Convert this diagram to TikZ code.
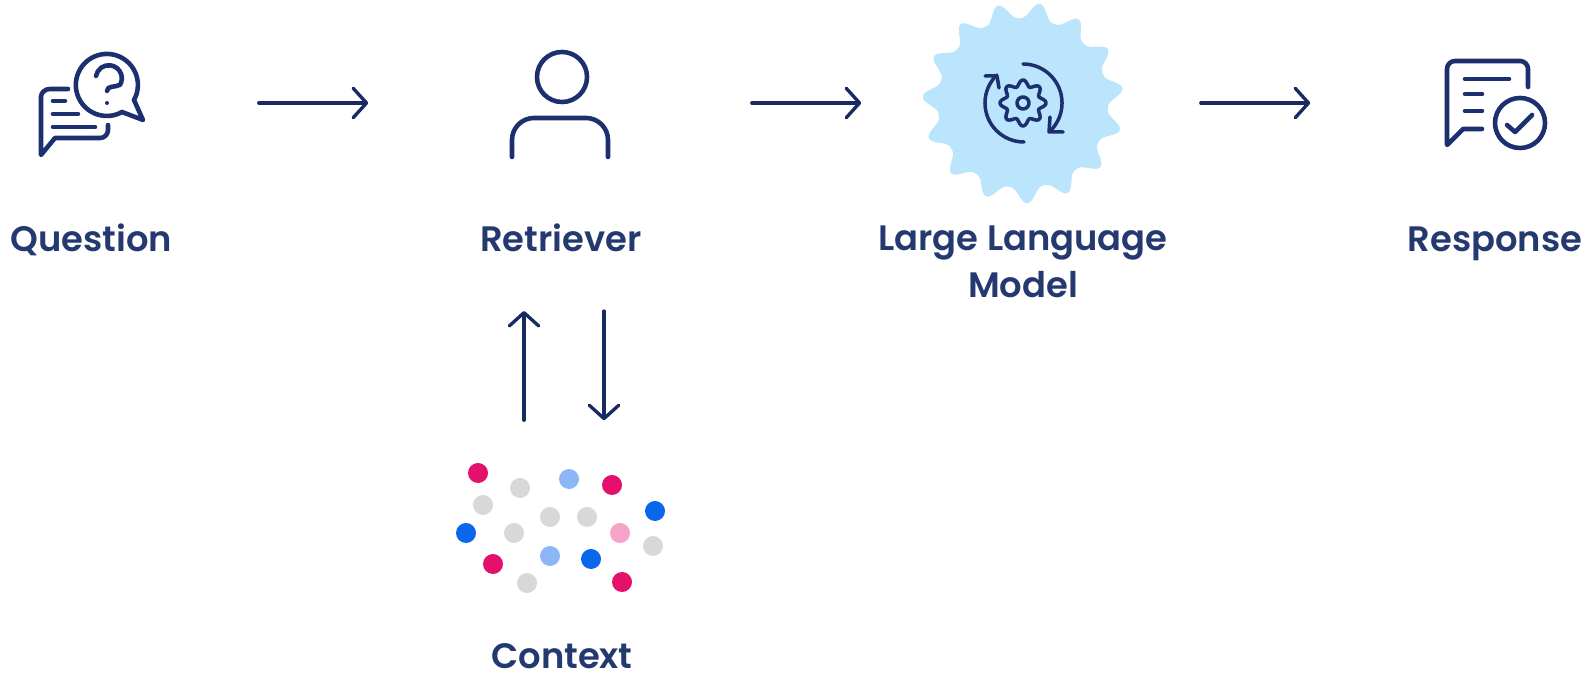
\documentclass[tikz,border=0pt]{standalone}
\usepackage{fontspec}
\setmainfont{Poppins}[BoldFont={Poppins SemiBold}]
\usetikzlibrary{arrows.meta}
\definecolor{navy}{HTML}{1C2F6E}
\definecolor{labelblue}{HTML}{24396F}
\definecolor{burst}{HTML}{BBE5FD}
\definecolor{dotpink}{HTML}{E3106C}
\definecolor{dotblue}{HTML}{0A66EA}
\definecolor{dotsky}{HTML}{8DB6F7}
\definecolor{dotgray}{HTML}{D8D8D8}
\definecolor{dotrose}{HTML}{F5A3C7}
\tikzset{
	flow/.style={draw=navy!90!black, line width=0.95pt, line cap=round, -{Straight Barb[length=3.8pt,width=8.4pt,line width=0.95pt,round]}},
	icon/.style={draw=navy, line width=1.3pt, line cap=round, line join=round},
	thin icon/.style={icon, line width=1pt},
	label/.style={text=labelblue, font=\fontsize{10.05}{13.4}\selectfont\bfseries, align=center, anchor=base, inner sep=0pt},
	slot/.style={minimum width=#1, minimum height=1.1cm, inner sep=0pt},
	dot/.style={circle, inner sep=0pt, minimum size=0.2cm}
}
\begin{document}
\begin{tikzpicture}[x=0.01cm, y=-0.01cm]
	\useasboundingbox (0,0) rectangle (1595,674);

	% light burst behind the LLM icon
	\fill[burst] plot[domain=0:360, samples=361, smooth]
		({1023+(85+15.5*(0.5+0.5*cos(15*\x-126))^1.5)*cos(\x)}, {103-(85+15.5*(0.5+0.5*cos(15*\x-126))^1.5)*sin(\x)}) -- cycle;

	\node[slot=3.36cm] (question)  at (90,103)   {};
	\node[slot=3.82cm] (retriever) at (560,103)  {};
	\node[slot=3.38cm] (llm)       at (1031,103) {};
	\node[slot=3.68cm] (response)  at (1495,103) {};

	\node[label] (questiontext)  at (91.5,252)  {Question};
	\node[label] (retrievertext) at (561,252)   {Retriever};
	\node[label] (llmtext)       at (1023,298)  {Large Language\\Model};
	\node[label] (responsetext)  at (1495,252)  {Response};
	\node[label] (contexttext)   at (562,669)   {Context};

	\node[minimum width=2.2cm, minimum height=1.64cm, inner sep=0pt] (context) at (564,503) {};
	\coordinate (uphead) at (524,311);
	\coordinate (downtail) at (604,311);

	% top row
	\def\list {question/retriever, retriever/llm, llm/response}  % list elements
	\foreach \u/\v in \list
	{	\draw[flow] (\u.east) -- (\v.west);
	}

	% to and from the context
	\draw[flow] (context.north -| uphead) -- (uphead);
	\draw[flow] (downtail) -- (context.north -| downtail);

	% question icon
	\draw[icon] (68,89) -- (50,89) to[out=180,in=90] (41,97) -- (41,155) -- (55,138) -- (100,138) to[out=0,in=-90] (108,130) -- (108,125);
	\draw[icon] (53,101) -- (65,101) (53,114) -- (78,114) (53,127) -- (95,127);
	\draw[icon] (134,100) -- (143,120) -- (122,112);
	\draw[icon] (134,100) arc[start angle=-29, end angle=299, radius=0.31cm];
	\draw[icon] (96,76) arc[start angle=170, end angle=-30, radius=0.13cm] to[out=210,in=90] (107,91);
	\fill[navy] (107,103) circle[radius=0.02cm];

	% retriever icon
	\draw[icon] (562,77) circle[radius=0.25cm];
	\draw[icon, rounded corners=0.22cm] (512,157) -- (512,118) -- (608,118) -- (608,157);

	% llm icon
	\draw[thin icon] (1023,64) arc[start angle=90, end angle=-46, radius=0.39cm];
	\draw[thin icon] (1024,142) arc[start angle=-90, end angle=-226, radius=0.39cm];
	\draw[thin icon] (1050,117) -- (1049,132) -- (1063,132);
	\draw[thin icon] (985,76) -- (997,76) -- (999,88);
	\draw[thin icon] (1023,103) circle[radius=0.06cm];
	\draw[thin icon] plot[domain=0:360, samples=121, smooth]
		({1023+(20+3*cos(8*\x))*cos(\x)}, {103-(20+3*cos(8*\x))*sin(\x)}) -- cycle;

	% response icon
	\draw[icon] (1528,87) -- (1528,69) to[out=90,in=0] (1520,61) -- (1455,61) to[out=180,in=90] (1447,69) -- (1447,145) -- (1463,129) -- (1482,129);
	\draw[icon] (1465,79) -- (1509,79) (1465,94) -- (1482,94) (1465,111) -- (1482,111);
	\draw[icon] (1520,123) circle[radius=0.25cm];
	\draw[icon] (1507,125) -- (1515,132) -- (1532,115);

	% context dots
	\def\dots {478/473/dotpink, 612/485/dotpink, 493/564/dotpink, 622/582/dotpink,
		466/533/dotblue, 655/511/dotblue, 591/559/dotblue,
		569/479/dotsky, 550/556/dotsky,
		520/488/dotgray, 483/505/dotgray, 550/517/dotgray, 587/517/dotgray, 514/533/dotgray, 653/546/dotgray, 527/583/dotgray,
		620/533/dotrose}  % list elements
	\foreach \px/\py/\col [count=\i] in \dots
	{	\node[dot, fill=\col] (d\i) at (\px,\py) {};
	}
\end{tikzpicture}
\end{document}
